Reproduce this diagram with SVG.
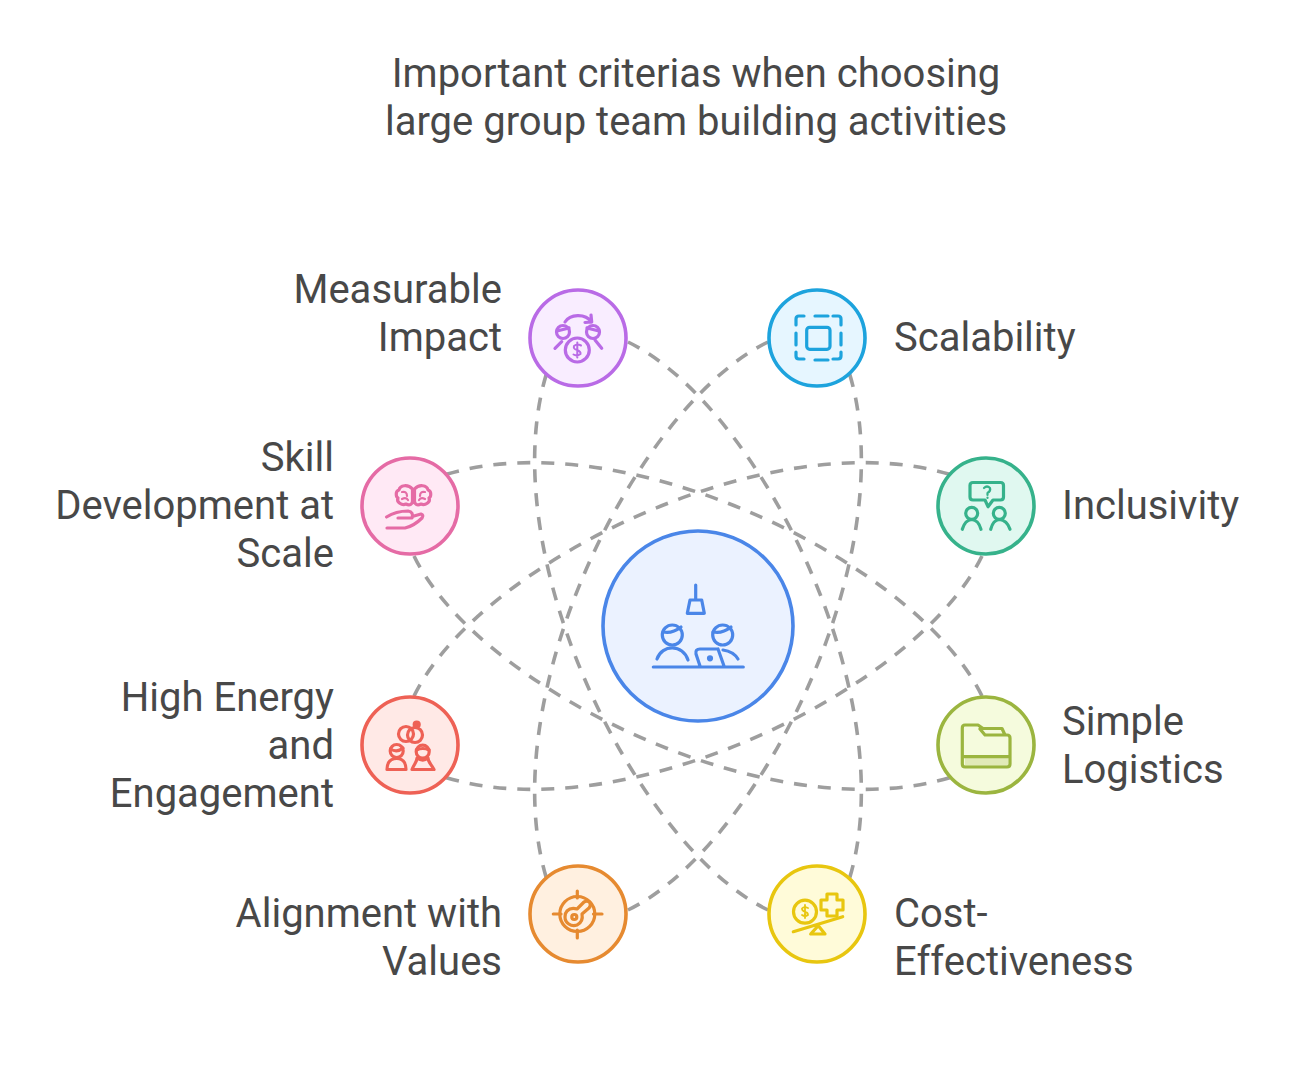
<svg xmlns="http://www.w3.org/2000/svg" width="1300" height="1084" viewBox="0 0 1300 1084">
<style>
text{font-family:Roboto,"Liberation Sans",sans-serif;font-size:40px;fill:#484848}
.e{text-anchor:end}.m{text-anchor:middle}
.c{fill:none;stroke:#9e9e9e;stroke-width:3.6;stroke-dasharray:13 11}
.i{fill:none;stroke-width:3.2;stroke-linecap:round;stroke-linejoin:round}
.n{stroke-width:3.6}
.pu{fill:#f9edff;stroke:#b96be6}.bl{fill:#e6f6ff;stroke:#1da3dd}.pi{fill:#ffe9f5;stroke:#e56ba5}.gr{fill:#e0f8f0;stroke:#36b28b}
.re{fill:#ffe9e6;stroke:#ee6155}.ol{fill:#f5fbdd;stroke:#9bb53f}.or{fill:#fff0e0;stroke:#e68a30}.ye{fill:#fffbd9;stroke:#e8c60f}.ce{fill:#ebf2ff;stroke:#4a86e8}
</style>
<rect width="1300" height="1084" fill="#fff"/>
<g id="title"><text class="m" x="696" y="87">Important criterias when choosing</text><text class="m" x="696" y="135">large group team building activities</text></g>
<g id="connectors">
<path class="c" d="M628 342C760 406 905 700 849 880"/>
<path class="c" d="M768 910C636 846 491 552 547 372"/>
<path class="c" d="M768 342C636 406 491 700 547 880"/>
<path class="c" d="M628 910C760 846 905 552 849 372"/>
<path class="c" d="M414 556C478 688 772 833 952 777"/>
<path class="c" d="M982 696C918 564 624 419 444 475"/>
<path class="c" d="M982 556C918 688 624 833 444 777"/>
<path class="c" d="M414 696C478 564 772 419 952 475"/>
</g>
<g id="center"><circle class="n ce" cx="698" cy="626" r="95"/>
<g class="i" stroke="#4a86e8" fill="none"><path d="M695.700 585V600M690 600H701.700L704.300 613.300H687.300Z"/><circle cx="672.300" cy="635" r="10"/><circle cx="722.700" cy="635" r="10"/><path d="M663 632Q672 634 681 627M713 632Q722 634 731 627M657 659C662 644 683 644 688 660M723 650C730 651 735 654 738 659M653.300 667H743.300M700 666L696 654Q695 649 700 649H718M718 649L724 666"/><circle cx="710" cy="658.300" r="1.500"/></g></g>
<g id="measurable-impact"><circle class="n pu" cx="578" cy="338" r="48"/>
<g class="i" stroke="#b96be6"><path d="M565 322C570 314 585 313 591.700 322M585 322.500L591.700 322L591 315"/><circle cx="563" cy="332" r="6.500"/><circle cx="593" cy="332" r="6.500"/><path d="M557 331L569 328M587 328L599 331M555 348.300L561.700 341.700M601.700 348.300L595 340"/><circle cx="577.300" cy="350" r="12"/><path d="M581 345.500Q577 343.500 574 346Q573 349 577 350Q581 351.500 580.500 354Q577 356.500 573.500 354.500M577.300 342.500V357.500" stroke-width="2"/></g>
<text class="e" x="502" y="303">Measurable</text><text class="e" x="502" y="351">Impact</text></g>
<g id="scalability"><circle class="n bl" cx="817" cy="338" r="48"/>
<g class="i" stroke="#1da3dd"><rect x="806.700" y="327.300" width="23.300" height="22" rx="3"/><path d="M796 325V319Q796 316 799 316H804M815 316H828M833 316H838Q841 316 841 319V325M841 333V345M841 352V356Q841 359 838 359H833M828 360H815M804 359H799Q796 359 796 356V352M796 345V333"/></g>
<text x="894" y="351">Scalability</text></g>
<g id="skill-development"><circle class="n pi" cx="410" cy="506" r="48"/>
<g class="i" stroke="#e56ba5"><path d="M412.500 489C408 484 400 485 399 490C395 491 396 497 398 498C396 502 402 506 406 504C410 506 412.500 504 412.500 501ZM414.500 489C419 484 427 485 428 490C432 491 431 497 429 498C431 502 425 506 421 504C417 506 414.500 504 414.500 501Z"/><path d="M402 492Q407 491 407 496M402 499Q406 497 408 500M425 492Q420 491 420 496M425 499Q421 497 419 500" stroke-width="2.200"/><path d="M386.500 517Q396 511 408 511Q414 512 412 518H398M414 516L421 514Q424 515 422 518Q414 526 405 528H387"/></g>
<text class="e" x="334" y="471">Skill</text><text class="e" x="334" y="519">Development at</text><text class="e" x="334" y="567">Scale</text></g>
<g id="inclusivity"><circle class="n gr" cx="986" cy="506" r="48"/>
<g class="i" stroke="#36b28b"><path d="M973 482.500H1000.500Q1003.500 482.500 1003.500 485.500V497Q1003.500 500 1000.500 500H993L988 506.700L985 500H973Q970 500 970 497V485.500Q970 482.500 973 482.500Z"/><path d="M984 488Q987 485 990 488Q991 491 987.500 493V495M987.500 497.500V498" stroke-width="2.200"/><circle cx="971.700" cy="513.300" r="6"/><circle cx="999.300" cy="513.300" r="6"/><path d="M962.300 529.300Q965 520 971.700 519.500Q978.500 520 981 529.300M990.700 529.300Q993 520 999.300 519.500Q1007 520 1010 529.300"/></g>
<text x="1062" y="519">Inclusivity</text></g>
<g id="high-energy"><circle class="n re" cx="410" cy="745" r="48"/>
<g class="i" stroke="#ee6155"><circle cx="406" cy="734" r="7.500"/><circle cx="415" cy="735" r="7.500"/><circle cx="416.700" cy="724.500" r="2.500" fill="#ee6155"/><circle cx="396.700" cy="751" r="6.500"/><circle cx="422.700" cy="751.700" r="6.500"/><path d="M390.500 749Q397 753 403 748M416.500 750Q423 747 429 750"/><path d="M387 769.500C387 762 391 758.500 396.700 758.500C402 758.500 406 762 406 769.500ZM412 769.500C414 764 417 762 417 758Q423 762 428 758C428 762 431 764 434 769.500Z"/></g>
<text class="e" x="334" y="711">High Energy</text><text class="e" x="334" y="759">and</text><text class="e" x="334" y="807">Engagement</text></g>
<g id="simple-logistics"><circle class="n ol" cx="986" cy="745" r="48"/>
<rect x="965" y="757" width="43" height="10" fill="#d3e0a0" opacity=".6"/>
<g class="i" stroke="#9bb53f"><path d="M965 725H978L983 728.500H1002L1005 735H1007Q1010 735 1010 738V764Q1010 767 1007 767H965Q962.300 767 962.300 764V728Q962.300 725 965 725ZM980 729L985 735H1005M962.300 756.700H1010"/></g>
<text x="1062" y="735">Simple</text><text x="1062" y="783">Logistics</text></g>
<g id="alignment"><circle class="n or" cx="578" cy="914" r="48"/>
<g class="i" stroke="#e68a30"><circle cx="577.300" cy="914" r="17.500"/><path d="M577.300 891V898M577.300 930V938M553.300 914H561M593.500 914H602"/><path d="M567 911C570 908 574 908 577 909L584 902Q588 900 590 903Q591 906 589 908L582 914C583 919 581 923 577 925C571 927 565 923 565 917Q565 913 567 911Z"/><circle cx="574.300" cy="917" r="2.500"/></g>
<text class="e" x="502" y="927">Alignment with</text><text class="e" x="502" y="975">Values</text></g>
<g id="cost-effectiveness"><circle class="n ye" cx="817" cy="914" r="48"/>
<g class="i" stroke="#e8c60f"><circle cx="805" cy="911.700" r="11.500"/><path d="M808 908Q804 906 802 908.500Q802 911 805 911.700Q808 912.500 808 915Q805 917 802 915M805 905V918" stroke-width="1.800"/><path d="M827 894H837V900H843V910H837V916H827V910H821V900H827Z"/><path d="M793.300 931.700L842.700 916.700M818.300 925.700L810.700 934H825Z"/></g>
<text x="894" y="927">Cost-</text><text x="894" y="975">Effectiveness</text></g>
</svg>
